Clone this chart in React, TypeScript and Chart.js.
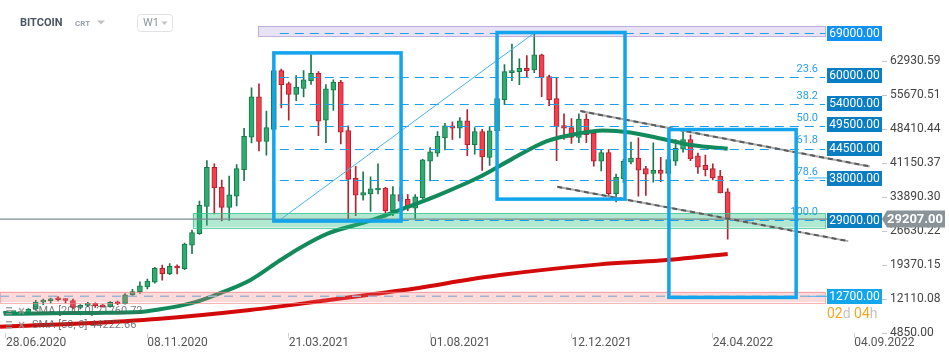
import React, { useEffect, useRef } from 'react';
import { Chart, registerables } from 'chart.js';

Chart.register(...registerables);

// Weekly candles, week 0 = 28.06.2020
const opens = [9050, 9200, 9400, 9100, 9950, 11450, 11750, 12100, 11950, 11800, 10300, 10750, 11200, 10700, 10450, 11400, 11100, 13000, 13700, 14700, 15700, 18650, 17550, 19100, 18600, 23650, 26100, 31900, 40250, 36050, 31700, 34100, 39780, 46700, 55340, 45800, 48400, 60940, 58160, 55880, 57120, 58780, 60380, 50360, 56790, 58510, 48140, 37910, 34310, 34590, 35420, 35840, 31000, 34450, 33410, 31540, 33760, 41570, 43310, 46540, 49120, 48620, 50220, 45090, 47930, 42400, 48080, 54720, 60520, 60730, 61410, 61070, 64320, 59690, 54990, 49170, 48760, 46690, 50570, 47580, 41570, 43430, 34660, 37770, 41360, 42270, 39990, 38950, 39640, 38950, 41570, 44140, 46210, 42740, 40680, 39990, 38390, 35010];
const highs = [9350, 9450, 9500, 10050, 11850, 12100, 12300, 12650, 12150, 12100, 10900, 11400, 11300, 10900, 11550, 11700, 13300, 14200, 15780, 16400, 18900, 19370, 19700, 19400, 24100, 26840, 33060, 41710, 41020, 37560, 38390, 40880, 48620, 57270, 58100, 52290, 61270, 61270, 58500, 59900, 60940, 64380, 60730, 57950, 58990, 58860, 49120, 40470, 39290, 38250, 41020, 36000, 36170, 36050, 34450, 34450, 42000, 44470, 47930, 49670, 50000, 50910, 52640, 48760, 48410, 48970, 55500, 62250, 66600, 63490, 64180, 69000, 64500, 60000, 59340, 51730, 50700, 51730, 51730, 47930, 44140, 44140, 38810, 42000, 45650, 46550, 40500, 45500, 42400, 42740, 46200, 47930, 47240, 43300, 42900, 41020, 39640, 35700];
const lows = [8900, 9050, 8950, 9000, 9800, 10900, 11300, 11700, 11300, 10000, 10000, 10500, 10300, 10400, 10350, 10900, 11000, 12800, 13300, 14300, 15500, 16130, 17300, 17500, 18400, 21800, 25900, 27880, 30300, 28790, 28910, 32030, 37420, 45510, 43780, 42890, 48000, 52970, 50360, 54510, 55340, 58000, 47040, 45550, 52440, 45300, 29260, 29950, 33270, 30860, 34590, 29620, 29950, 33000, 31000, 29260, 33500, 37350, 42600, 43990, 46210, 46540, 42750, 43100, 39600, 40680, 47500, 53680, 58780, 57950, 59490, 60500, 55400, 53470, 41710, 46210, 45380, 45520, 45520, 40540, 39490, 33980, 32850, 37000, 41020, 34100, 34250, 37080, 37210, 38500, 40680, 43500, 41700, 38950, 38450, 37560, 34800, 24910];
const closes = [9200, 9400, 9000, 9950, 11450, 11750, 12100, 11950, 11800, 10300, 10750, 11200, 10650, 10450, 11400, 11100, 13000, 13700, 14950, 15950, 18650, 17550, 19100, 18750, 23850, 26300, 32150, 40250, 35850, 31700, 34400, 40000, 46900, 55340, 45800, 48760, 60940, 57950, 55880, 57410, 58990, 60380, 50150, 57060, 58510, 47790, 37710, 34310, 34860, 35690, 35840, 31000, 34450, 33060, 31690, 33970, 41850, 43580, 46900, 49120, 48620, 50220, 45090, 47930, 42500, 48080, 54990, 60730, 60940, 61410, 60940, 64320, 59490, 54720, 48970, 48620, 46690, 50570, 47250, 41570, 43430, 34660, 38120, 41570, 42270, 39640, 38810, 39640, 38950, 41920, 44350, 46210, 42060, 40320, 39780, 38030, 34800, 29207];

const dateTickWeeks = [0, 19, 38, 57, 76, 95, 114];
const dateTickLabels = ['28.06.2020', '08.11.2020', '21.03.2021', '01.08.2021', '12.12.2021', '24.04.2022', '04.09.2022'];
const priceTicks = [4850.0, 12110.08, 19370.15, 26630.22, 33890.3, 41150.37, 48410.44, 55670.51, 62930.59];

const smaGreenWeeks = [-0.3, 6, 12, 18, 20.7, 23.8, 26.1, 28.8, 32.8, 36.8, 39.5, 43.3, 48.5, 53.9, 58.3, 63.7, 68.1, 72.7, 77.2, 80.2, 83.9, 88.3, 92.3, 97];
const smaGreenValues = [8940, 9080, 9150, 9350, 9910, 10800, 11780, 13360, 16130, 20340, 23040, 26150, 28640, 31750, 34450, 38250, 42130, 45860, 47580, 48140, 47730, 46340, 44970, 44222.66];
const smaRedWeeks = [-0.8, 10, 20.7, 32.8, 42.2, 53, 66.4, 79.8, 87.9, 97];
const smaRedValues = [6200, 6860, 7900, 9770, 11640, 13920, 17230, 19520, 20350, 21760.72];

const levelValues = [69000, 60000, 54000, 49500, 44500, 38000, 29000, 12700];
const levelBoxColors = ['#1192ee', '#0b7dc2', '#0b7dc2', '#0b7dc2', '#0b7dc2', '#0b7dc2', '#0b7dc2', '#14a6ea'];
const fibPercents = [0, 23.6, 38.2, 50.0, 61.8, 78.6, 100.0];
const fibHigh = 69000;
const fibLow = 29000;
const fibStartWeek = 36.8;
const fibEndWeek = 110.1;
const lastPrice = 29207.0;

// zones: [fromWeek, toWeek, topValue, bottomValue]
const zoneTop = [33.9, 110.1, 70500, 68300];
const zoneSupport = [25.1, 110.1, 30510, 27400];
const zoneLow = [-0.8, 110.1, 13710, 11430];
// rectangles: [fromWeek, toWeek, topValue, bottomValue]
const rectWeeks = [[36.0, 53.1], [66.0, 83.2], [89.1, 106.2]];
const rectValues = [[64735, 28790], [69091, 33475], [48348, 12461]];
// channel lines: [week0, value0, week1, value1]
const channelUpper = [77.2, 52290, 116.1, 40466];
const channelLower = [74.1, 36110, 113.2, 24494];
const fibDiagonal = [36.8, 29000, 71.0, 69000];

const X_MIN = -0.806;
const X_MAX = 117.74;
const Y_MIN = 4850;
const Y_MAX = 73862;

const FONT = 'Roboto, "Noto Sans", Arial, sans-serif';

const overlayPlugin = {
  id: 'overlay',
  afterDatasetsDraw(chart: any) {
    const { ctx, chartArea: ca, scales } = chart;
    const px = (v: number) => scales.x.getPixelForValue(v);
    const py = (v: number) => scales.y.getPixelForValue(v);
    ctx.save();
    ctx.beginPath();
    ctx.rect(ca.left, ca.top, ca.right - ca.left, ca.bottom - ca.top);
    ctx.clip();

    const zone = (z: number[], fill: string, stroke: string) => {
      const x0 = px(z[0]);
      const x1 = px(z[1]);
      const y0 = py(z[2]);
      const y1 = py(z[3]);
      ctx.fillStyle = fill;
      ctx.fillRect(x0, y0, x1 - x0, y1 - y0);
      ctx.strokeStyle = stroke;
      ctx.lineWidth = 1;
      ctx.strokeRect(Math.round(x0) + 0.5, Math.round(y0) + 0.5, Math.round(x1 - x0), Math.round(y1 - y0));
    };
    zone(zoneTop, 'rgba(160,140,210,0.25)', 'rgba(170,150,210,0.7)');
    zone(zoneLow, 'rgba(245,120,120,0.27)', 'rgba(240,130,130,0.6)');
    zone(zoneSupport, 'rgba(40,190,130,0.36)', 'rgba(60,195,140,0.75)');

    // current price line
    ctx.strokeStyle = '#7a8a8e';
    ctx.lineWidth = 1.2;
    ctx.beginPath();
    ctx.moveTo(ca.left, py(lastPrice));
    ctx.lineTo(ca.right, py(lastPrice));
    ctx.stroke();

    // low level dashed line
    ctx.setLineDash([9, 7]);
    ctx.strokeStyle = '#9db3d4';
    ctx.lineWidth = 1.5;
    ctx.beginPath();
    ctx.moveTo(ca.left, py(levelValues[7]));
    ctx.lineTo(px(fibEndWeek), py(levelValues[7]));
    ctx.stroke();

    // fib lines
    ctx.setLineDash([9, 6]);
    ctx.strokeStyle = '#1d9ee8';
    ctx.lineWidth = 1;
    fibPercents.forEach((p) => {
      const v = fibHigh - ((fibHigh - fibLow) * p) / 100;
      const yy = Math.round(py(v)) + 0.5;
      ctx.beginPath();
      ctx.moveTo(px(fibStartWeek), yy);
      ctx.lineTo(px(fibEndWeek), yy);
      ctx.stroke();
    });
    ctx.setLineDash([]);

    // fib diagonal
    ctx.strokeStyle = '#45b3f5';
    ctx.lineWidth = 1;
    ctx.beginPath();
    ctx.moveTo(px(fibDiagonal[0]), py(fibDiagonal[1]));
    ctx.lineTo(px(fibDiagonal[2]), py(fibDiagonal[3]));
    ctx.stroke();

    // channel lines
    [channelUpper, channelLower].forEach((c) => {
      ctx.strokeStyle = 'rgba(150,150,150,0.8)';
      ctx.lineWidth = 2;
      ctx.setLineDash([]);
      ctx.beginPath();
      ctx.moveTo(px(c[0]), py(c[1]));
      ctx.lineTo(px(c[2]), py(c[3]));
      ctx.stroke();
      ctx.strokeStyle = '#5a5a5a';
      ctx.setLineDash([5, 4]);
      ctx.beginPath();
      ctx.moveTo(px(c[0]), py(c[1]));
      ctx.lineTo(px(c[2]), py(c[3]));
      ctx.stroke();
    });
    ctx.setLineDash([]);

    // rectangles
    ctx.strokeStyle = '#12a4ec';
    ctx.lineWidth = 3.5;
    rectWeeks.forEach((w, k) => {
      const x0 = px(w[0]);
      const x1 = px(w[1]);
      const y0 = py(rectValues[k][0]);
      const y1 = py(rectValues[k][1]);
      ctx.strokeRect(x0, y0, x1 - x0, y1 - y0);
    });

    // fib labels
    ctx.fillStyle = '#2aa0e4';
    ctx.font = '11px ' + FONT;
    ctx.textAlign = 'right';
    ctx.textBaseline = 'middle';
    fibPercents.forEach((p) => {
      if (p === 0) return;
      const v = fibHigh - ((fibHigh - fibLow) * p) / 100;
      ctx.fillText(p.toFixed(1), ca.right - 64, py(v) - 8);
    });

    // connectors
    ctx.strokeStyle = '#45b3f5';
    ctx.lineWidth = 1;
    [levelValues[5], levelValues[7]].forEach((v) => {
      ctx.beginPath();
      ctx.moveTo(ca.right - 74, py(v));
      ctx.lineTo(ca.right - 55, py(v));
      ctx.stroke();
    });
    ctx.restore();
  },
  afterDraw(chart: any) {
    const { ctx, chartArea: ca, scales } = chart;
    const py = (v: number) => scales.y.getPixelForValue(v);
    ctx.save();
    // level boxes
    ctx.font = '12px ' + FONT;
    ctx.textAlign = 'center';
    ctx.textBaseline = 'middle';
    levelValues.forEach((v, k) => {
      const yy = py(v);
      ctx.fillStyle = levelBoxColors[k];
      ctx.fillRect(ca.right - 55, Math.round(yy) - 7, 55, 15);
      ctx.fillStyle = '#ffffff';
      ctx.fillText(v.toFixed(2), ca.right - 27.5, Math.round(yy) + 0.5);
    });
    // price tag
    const ty = Math.round(py(lastPrice));
    ctx.fillStyle = '#8a9498';
    ctx.beginPath();
    ctx.moveTo(ca.right, ty);
    ctx.lineTo(ca.right + 5, ty - 8.5);
    ctx.lineTo(ca.right + 63, ty - 8.5);
    ctx.lineTo(ca.right + 63, ty + 8.5);
    ctx.lineTo(ca.right + 5, ty + 8.5);
    ctx.closePath();
    ctx.fill();
    ctx.fillStyle = '#ffffff';
    ctx.font = 'bold 13px ' + FONT;
    ctx.textAlign = 'center';
    ctx.fillText(lastPrice.toFixed(2), ca.right + 33, ty + 0.5);

    // countdown
    ctx.font = '14px ' + FONT;
    ctx.textAlign = 'left';
    let cx = ca.right - 55;
    const cy = 314;
    const parts: [string, string][] = [['02', '#f5a623'], ['d', '#c4c4c4'], [' ', '#c4c4c4'], ['04', '#f5a623'], ['h', '#c4c4c4']];
    parts.forEach(([t, c]) => {
      ctx.fillStyle = c;
      ctx.fillText(t, cx, cy);
      cx += ctx.measureText(t).width;
    });

    // header
    ctx.textBaseline = 'middle';
    ctx.fillStyle = '#4a5561';
    ctx.font = 'bold 11px ' + FONT;
    ctx.fillText('BITCOIN', 20, 23);
    ctx.fillStyle = '#9aa3ab';
    ctx.font = 'bold 8px ' + FONT;
    ctx.fillText('CRT', 75, 24);
    ctx.fillStyle = '#c2c2c2';
    ctx.beginPath();
    ctx.moveTo(97, 20.5);
    ctx.lineTo(105, 20.5);
    ctx.lineTo(101, 24.5);
    ctx.closePath();
    ctx.fill();
    ctx.strokeStyle = '#e2e2e2';
    ctx.lineWidth = 1;
    ctx.beginPath();
    if (ctx.roundRect) ctx.roundRect(137.5, 14.5, 35, 17, 3);
    else ctx.rect(137.5, 14.5, 35, 17);
    ctx.stroke();
    ctx.fillStyle = '#8c959d';
    ctx.font = '11px ' + FONT;
    ctx.fillText('W1', 143, 23.5);
    ctx.fillStyle = '#c2c2c2';
    ctx.beginPath();
    ctx.moveTo(161.5, 21.5);
    ctx.lineTo(167.5, 21.5);
    ctx.lineTo(164.5, 25);
    ctx.closePath();
    ctx.fill();

    // legend
    const legendRows: [string, number][] = [['SMA [200, 0] 21760.72', 311], ['SMA [50, 0] 44222.66', 325]];
    legendRows.forEach(([t, ly]) => {
      ctx.fillStyle = 'rgba(150,150,150,0.85)';
      ctx.fillRect(6, ly - 4, 6, 1.5);
      ctx.fillRect(6, ly - 1, 6, 1.5);
      ctx.fillRect(6, ly + 2, 6, 1.5);
      ctx.strokeStyle = 'rgba(150,150,150,0.85)';
      ctx.lineWidth = 1.5;
      ctx.beginPath();
      ctx.moveTo(19, ly - 3);
      ctx.lineTo(24, ly + 3);
      ctx.moveTo(24, ly - 3);
      ctx.lineTo(19, ly + 3);
      ctx.stroke();
      ctx.fillStyle = 'rgba(90,90,90,0.8)';
      ctx.font = '11px ' + FONT;
      ctx.textAlign = 'left';
      ctx.fillText(t, 32, ly);
    });
    ctx.restore();
  },
};

export default function App() {
  const canvasRef = useRef<HTMLCanvasElement | null>(null);

  useEffect(() => {
    const canvas = canvasRef.current;
    if (!canvas) return;
    const up = opens.map((o, i) => closes[i] >= o);
    const bodyData = opens.map((o, i) => ({ x: i, y: [o, closes[i]] }));
    const wickData = lows.map((l, i) => ({ x: i, y: [l, highs[i]] }));
    const greenData = smaGreenWeeks.map((w, i) => ({ x: w, y: smaGreenValues[i] }));
    const redData = smaRedWeeks.map((w, i) => ({ x: w, y: smaRedValues[i] }));

    const chart = new Chart(canvas, {
      type: 'bar',
      data: {
        datasets: [
          {
            type: 'line',
            data: greenData as any,
            borderColor: '#138a5c',
            borderWidth: 4,
            pointRadius: 0,
            tension: 0.4,
            cubicInterpolationMode: 'monotone',
            order: 0,
          } as any,
          {
            type: 'line',
            data: redData as any,
            borderColor: '#d30a0a',
            borderWidth: 4,
            pointRadius: 0,
            tension: 0.4,
            cubicInterpolationMode: 'monotone',
            order: 0,
          } as any,
          {
            type: 'bar',
            data: bodyData as any,
            backgroundColor: up.map((u) => (u ? '#2eab6f' : '#f2404f')),
            borderColor: up.map((u) => (u ? '#17794a' : '#b3202f')),
            borderWidth: 1,
            borderSkipped: false,
            barThickness: 5,
            minBarLength: 2,
            grouped: false,
            order: 1,
          } as any,
          {
            type: 'bar',
            data: wickData as any,
            backgroundColor: up.map((u) => (u ? '#1b7a4d' : '#b52230')),
            borderWidth: 0,
            barThickness: 1,
            grouped: false,
            order: 2,
          } as any,
        ],
      },
      options: {
        responsive: false,
        maintainAspectRatio: false,
        devicePixelRatio: 1,
        animation: false,
        layout: { padding: 0 },
        plugins: { legend: { display: false }, tooltip: { enabled: false } },
        scales: {
          x: {
            type: 'linear',
            min: X_MIN,
            max: X_MAX,
            offset: false,
            afterBuildTicks: (scale: any) => {
              scale.ticks = dateTickWeeks.map((v) => ({ value: v }));
            },
            afterFit: (scale: any) => {
              scale.height = 25;
            },
            grid: { display: true, drawOnChartArea: false, drawTicks: true, tickLength: 5, color: '#cfcfcf', offset: false },
            border: { display: false },
            ticks: {
              align: 'start',
              maxRotation: 0,
              autoSkip: false,
              padding: -2,
              color: '#555555',
              font: { family: FONT, size: 12 },
              callback: (v: any) => {
                const k = dateTickWeeks.indexOf(Number(v));
                return k >= 0 ? dateTickLabels[k] : '';
              },
            },
          },
          y: {
            type: 'linear',
            position: 'right',
            min: Y_MIN,
            max: Y_MAX,
            afterBuildTicks: (scale: any) => {
              scale.ticks = priceTicks.map((v) => ({ value: v }));
            },
            afterFit: (scale: any) => {
              scale.width = 67;
            },
            grid: { display: true, drawOnChartArea: false, drawTicks: true, tickLength: 5, color: '#c8c8c8' },
            border: { display: false },
            ticks: {
              padding: 3,
              color: '#444444',
              font: { family: FONT, size: 12 },
              callback: (v: any) => Number(v).toFixed(2),
            },
          },
        },
      } as any,
      plugins: [overlayPlugin as any],
    });
    return () => chart.destroy();
  }, []);

  return (
    <div style={{ position: 'fixed', left: 0, top: 0, width: 949, height: 358, background: '#ffffff' }}>
      <canvas ref={canvasRef} width={949} height={358} style={{ display: 'block' }} />
    </div>
  );
}
